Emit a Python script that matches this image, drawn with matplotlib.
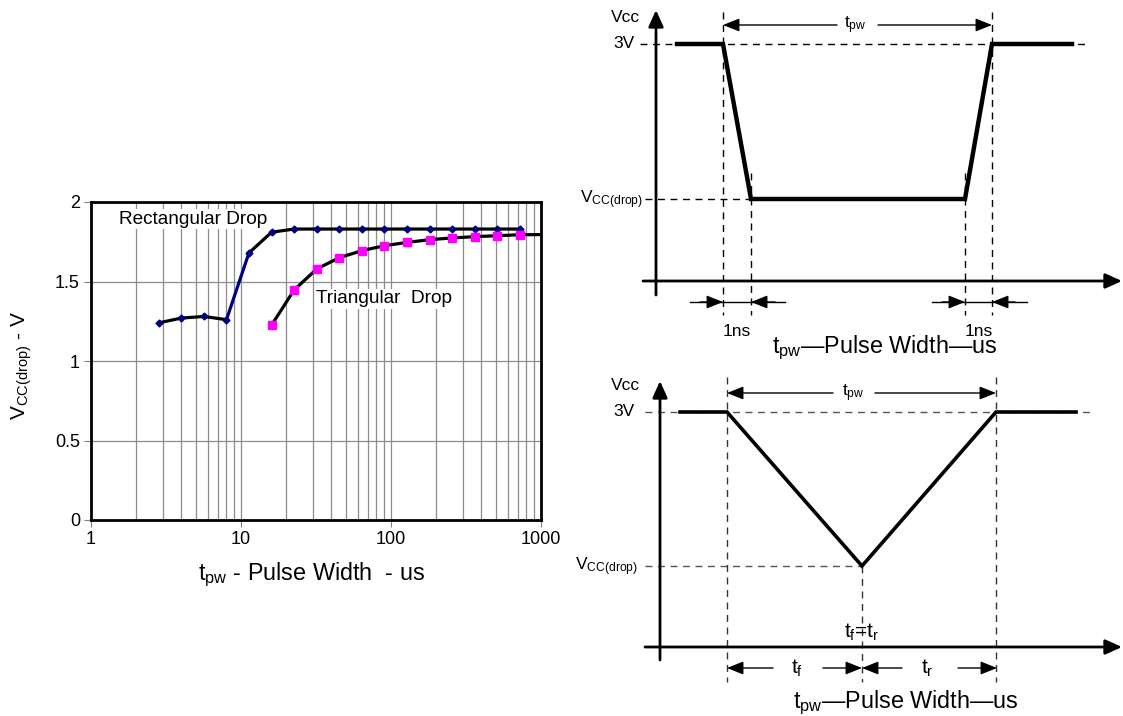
import matplotlib
matplotlib.use("Agg")
import matplotlib.pyplot as plt
from matplotlib.ticker import NullFormatter

plt.rcParams['font.family'] = ['Liberation Sans', 'DejaVu Sans']
plt.rcParams['mathtext.fontset'] = 'custom'
plt.rcParams['mathtext.rm'] = 'Liberation Sans'
plt.rcParams['mathtext.it'] = 'Liberation Sans'

# ---------------- data (left chart) ----------------
rect_pw_us = [2.83, 4, 5.66, 8, 11.3, 16, 22.6, 32, 45.3, 64, 90.5, 128, 181, 256, 362, 512, 724]
rect_vdrop = [1.24, 1.27, 1.28, 1.26, 1.68, 1.81, 1.83, 1.83, 1.83, 1.83, 1.83, 1.83, 1.83, 1.83, 1.83, 1.83, 1.83]
tri_pw_us = [16, 22.6, 32, 45.3, 64, 90.5, 128, 181, 256, 362, 512, 724]
tri_vdrop = [1.226, 1.447, 1.579, 1.65, 1.694, 1.725, 1.746, 1.763, 1.774, 1.782, 1.788, 1.794]
tri_tail_pw = [724, 1000]
tri_tail_v = [1.794, 1.795]
x_ticks = [1, 10, 100, 1000]
x_tick_labels = ['1', '10', '100', '1000']
y_ticks = [0, 0.5, 1, 1.5, 2]
y_tick_labels = ['0', '0.5', '1', '1.5', '2']

# ---------------- data (right diagrams, in pixel units) ----------------
rect_wave_t = [677, 723, 751, 965, 992, 1072]
rect_wave_v = [44, 44, 199, 199, 44, 44]
tri_wave_t = [680, 727, 862, 996, 1076]
tri_wave_v = [412, 412, 566, 412, 412]

W, H = 1123, 716
fig = plt.figure(figsize=(W / 100, H / 100), dpi=100)

def px(x, y):
    return x / W, 1 - y / H

# ---------------- left chart ----------------
ax = fig.add_axes([91 / W, (H - 520) / H, 450 / W, 318 / H])
ax.set_xscale('log')
ax.set_xlim(1, 1000)
ax.set_ylim(0, 2)
ax.set_xticks(x_ticks)
ax.set_xticklabels(x_tick_labels)
ax.set_yticks(y_ticks)
ax.set_yticklabels(y_tick_labels)
ax.xaxis.set_minor_formatter(NullFormatter())
ax.tick_params(axis='both', which='major', labelsize=13, length=5, width=0.8,
               color='#808080', pad=3)
ax.tick_params(axis='x', which='minor', length=0)
ax.grid(True, which='both', axis='x', color='#8c8c8c', lw=0.9)
ax.grid(True, which='major', axis='y', color='#8c8c8c', lw=0.9)
ax.set_axisbelow(True)
for s in ax.spines.values():
    s.set_linewidth(2.0)
    s.set_color('black')

# rectangular drop: black curve, navy steep segment
ax.plot(rect_pw_us[:4], rect_vdrop[:4], color='black', lw=2.3, zorder=3)
ax.plot(rect_pw_us[3:5], rect_vdrop[3:5], color='#000080', lw=2.3, zorder=3)
ax.plot(rect_pw_us[4:], rect_vdrop[4:], color='black', lw=2.3, zorder=3)
ax.plot(rect_pw_us, rect_vdrop, ls='none', marker='D', ms=3.5, color='#000080', zorder=4)

# triangular drop
ax.plot(tri_pw_us, tri_vdrop, color='black', lw=2.3, zorder=3)
ax.plot(tri_tail_pw, tri_tail_v, color='black', lw=2.3, zorder=3)
ax.plot(tri_pw_us, tri_vdrop, ls='none', marker='s', ms=5.5, color='#ff00ff', zorder=4)

fig.text(*px(193, 219), 'Rectangular Drop', fontsize=13.7, ha='center', va='center',
         bbox=dict(facecolor='white', edgecolor='none', pad=1))
fig.text(*px(384, 299), 'Triangular  Drop', fontsize=13.7, ha='center', va='center',
         bbox=dict(facecolor='white', edgecolor='none', pad=1))

fig.text(*px(22, 365), r'$\mathregular{V_{CC(drop)}}$ - V', fontsize=15, rotation=90,
         ha='center', va='center')
fig.text(*px(311, 575), r'$\mathregular{t_{pw}}$ - Pulse Width  - us', fontsize=16.8,
         ha='center', va='center')

# ---------------- right diagrams ----------------
dx = fig.add_axes([560 / W, 0, (W - 560) / W, 1])
dx.set_xlim(560, W)
dx.set_ylim(H, 0)
dx.axis('off')
dx.patch.set_alpha(0)

def arrow(x0, y0, x1, y1, hl=1.0, hw=0.4, lw=1.0, ms=10):
    dx.annotate('', xy=(x1, y1), xytext=(x0, y0),
                arrowprops=dict(arrowstyle=f'-|>,head_length={hl},head_width={hw}',
                                color='black', lw=lw, shrinkA=0, shrinkB=0,
                                mutation_scale=ms))

def dashed(xs, ys, color='black'):
    dx.plot(xs, ys, color=color, lw=1.0, ls=(0, (5, 4)))

# --- top: rectangular pulse ---
arrow(656, 295, 656, 10, hl=1.0, hw=0.45, lw=2.0)
arrow(643, 281, 1122, 281, hl=1.0, hw=0.45, lw=2.0)
dashed([640, 1087], [44, 44])
dashed([645, 751], [199, 199])
for xv in (723, 992):
    dashed([xv, xv], [12, 315])
for xv in (751, 965):
    dashed([xv, xv], [173, 315])
dx.plot(rect_wave_t, rect_wave_v, color='black', lw=3.2, solid_joinstyle='miter')
arrow(837, 25, 723, 25)
arrow(878, 25, 992, 25)
dx.text(855, 25, r'$\mathregular{t_{pw}}$', fontsize=12.5, ha='center', va='center')
dx.plot([690, 785], [302, 302], color='black', lw=1.0)
dx.plot([932, 1027], [302, 302], color='black', lw=1.0)
arrow(700, 302, 723, 302)
arrow(775, 302, 751, 302)
arrow(942, 302, 965, 302)
arrow(1015, 302, 992, 302)
dx.text(737, 331, '1ns', fontsize=12.5, ha='center', va='center')
dx.text(979, 331, '1ns', fontsize=12.5, ha='center', va='center')
dx.text(885, 348, r'$\mathregular{t_{pw}}$—Pulse Width—us', fontsize=16.8, ha='center', va='center')
dx.text(625, 17, 'Vcc', fontsize=12.5, ha='center', va='center')
dx.text(635, 44, '3V', fontsize=12.5, ha='right', va='center')
dx.text(643, 200, r'$\mathregular{V_{CC(drop)}}$', fontsize=12.5, ha='right', va='center')

# --- bottom: triangular pulse ---
arrow(660, 660, 660, 381, hl=1.0, hw=0.45, lw=2.0)
arrow(645, 647, 1122, 647, hl=1.0, hw=0.45, lw=2.0)
dashed([645, 1090], [412, 412], color='#555555')
dashed([645, 862], [566, 566], color='#555555')
for xv in (727, 996):
    dashed([xv, xv], [377, 682], color='#333333')
dashed([862, 862], [566, 682], color='#333333')
dx.plot(tri_wave_t, tri_wave_v, color='black', lw=2.6, solid_joinstyle='miter')
arrow(833, 393, 727, 393)
arrow(875, 393, 996, 393)
dx.text(853, 393, r'$\mathregular{t_{pw}}$', fontsize=12.5, ha='center', va='center')
arrow(773, 668, 727, 668)
arrow(823, 668, 862, 668)
arrow(902, 668, 862, 668)
arrow(958, 668, 997, 668)
dx.text(797, 668, r'$\mathregular{t_{f}}$', fontsize=15, ha='center', va='center')
dx.text(927, 668, r'$\mathregular{t_{r}}$', fontsize=15, ha='center', va='center')
dx.text(862, 632, r'$\mathregular{t_{f}}$=$\mathregular{t_{r}}$', fontsize=15, ha='center', va='center')
dx.text(906, 703, r'$\mathregular{t_{pw}}$—Pulse Width—us', fontsize=16.8, ha='center', va='center')
dx.text(625, 385, 'Vcc', fontsize=12.5, ha='center', va='center')
dx.text(635, 412, '3V', fontsize=12.5, ha='right', va='center')
dx.text(638, 567, r'$\mathregular{V_{CC(drop)}}$', fontsize=12.5, ha='right', va='center')

fig.savefig('out.png', dpi=100)
